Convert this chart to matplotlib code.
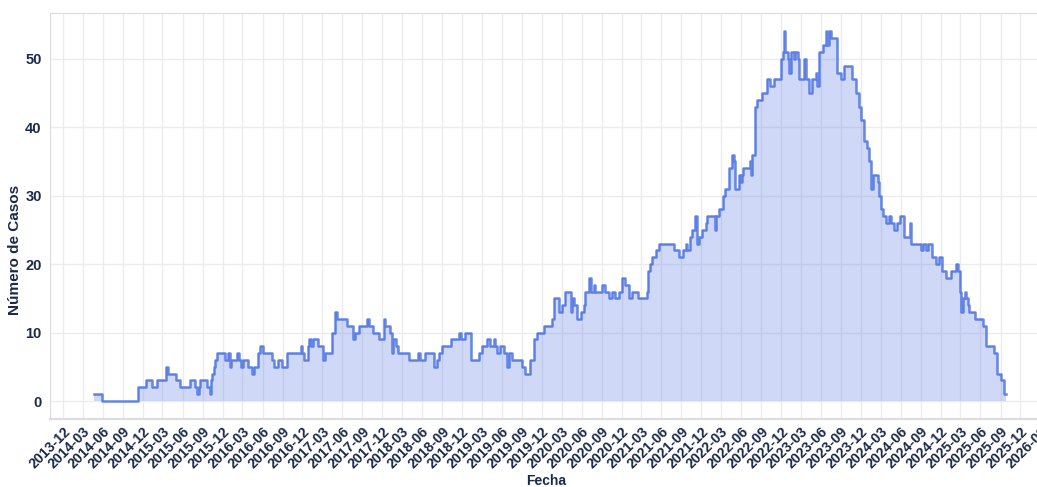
import matplotlib
matplotlib.use('Agg')
import matplotlib.pyplot as plt
import pandas as pd

dates = [
    '2014-04-21', '2014-05-30', '2014-11-11', '2014-12-16', '2015-01-11', '2015-02-03',
    '2015-03-19', '2015-03-28', '2015-05-04', '2015-05-19', '2015-07-04', '2015-07-28',
    '2015-08-07', '2015-08-15', '2015-08-19', '2015-09-19', '2015-10-04', '2015-10-10',
    '2015-10-16', '2015-10-22', '2015-10-28', '2015-11-04', '2015-12-12', '2015-12-27',
    '2016-01-03', '2016-01-08', '2016-02-06', '2016-02-13', '2016-02-24', '2016-03-04',
    '2016-03-28', '2016-04-13', '2016-04-24', '2016-05-13', '2016-05-21', '2016-06-04',
    '2016-07-13', '2016-07-22', '2016-08-13', '2016-08-29', '2016-09-22', '2016-11-22',
    '2016-11-29', '2016-12-07', '2016-12-25', '2016-12-29', '2017-01-07', '2017-01-16',
    '2017-02-12', '2017-03-07', '2017-03-15', '2017-04-15', '2017-05-01', '2017-05-10',
    '2017-06-22', '2017-07-22', '2017-07-28', '2017-08-16', '2017-09-22', '2017-10-01',
    '2017-10-22', '2017-11-16', '2017-12-07', '2017-12-16', '2018-01-07', '2018-01-13',
    '2018-01-19', '2018-02-01', '2018-02-10', '2018-04-01', '2018-05-16', '2018-05-24',
    '2018-06-16', '2018-07-25', '2018-08-09', '2018-08-16', '2018-09-01', '2018-10-10',
    '2018-11-16', '2018-11-25', '2018-12-16', '2019-01-10', '2019-02-16', '2019-03-01',
    '2019-03-25', '2019-04-10', '2019-04-25', '2019-05-03', '2019-05-10', '2019-05-25',
    '2019-06-10', '2019-06-25', '2019-07-03', '2019-07-18', '2019-09-03', '2019-09-18',
    '2019-10-07', '2019-10-25', '2019-11-10', '2019-12-11', '2020-01-18', '2020-01-28',
    '2020-02-18', '2020-03-03', '2020-03-18', '2020-04-12', '2020-04-18', '2020-04-27',
    '2020-05-09', '2020-05-27', '2020-06-12', '2020-06-18', '2020-07-06', '2020-07-12',
    '2020-07-27', '2020-08-03', '2020-09-03', '2020-09-18', '2020-10-03', '2020-10-18',
    '2020-11-03', '2020-11-18', '2020-12-03', '2020-12-18', '2021-01-03', '2021-01-18',
    '2021-02-12', '2021-03-27', '2021-04-03', '2021-04-12', '2021-04-21', '2021-05-06',
    '2021-05-21', '2021-07-27', '2021-08-21', '2021-09-09', '2021-09-21', '2021-09-27',
    '2021-10-12', '2021-10-21', '2021-11-01', '2021-11-12', '2021-11-21', '2021-12-06',
    '2021-12-21', '2021-12-27', '2022-02-01', '2022-02-06', '2022-02-21', '2022-03-11',
    '2022-03-21', '2022-04-06', '2022-04-21', '2022-04-29', '2022-05-06', '2022-05-21',
    '2022-06-03', '2022-06-06', '2022-06-12', '2022-07-12', '2022-07-18', '2022-07-21',
    '2022-08-06', '2022-08-15', '2022-09-06', '2022-09-27', '2022-10-12', '2022-11-01',
    '2022-12-01', '2022-12-10', '2022-12-16', '2022-12-21', '2023-01-01', '2023-01-07',
    '2023-01-16', '2023-01-28', '2023-02-03', '2023-02-16', '2023-02-21', '2023-03-16',
    '2023-03-25', '2023-04-06', '2023-04-23', '2023-05-08', '2023-05-16', '2023-05-23',
    '2023-06-09', '2023-06-24', '2023-07-01', '2023-07-09', '2023-07-16', '2023-08-16',
    '2023-09-01', '2023-09-16', '2023-10-24', '2023-11-09', '2023-11-24', '2023-12-01',
    '2023-12-16', '2023-12-28', '2024-01-09', '2024-01-16', '2024-01-28', '2024-02-16',
    '2024-02-24', '2024-03-04', '2024-03-13', '2024-03-24', '2024-04-09', '2024-04-16',
    '2024-05-02', '2024-05-17', '2024-05-28', '2024-06-15', '2024-07-12', '2024-07-18',
    '2024-09-03', '2024-09-09', '2024-09-24', '2024-10-03', '2024-10-24', '2024-11-09',
    '2024-11-24', '2024-12-09', '2024-12-24', '2025-01-18', '2025-02-09', '2025-02-18',
    '2025-02-27', '2025-03-03', '2025-03-11', '2025-03-21', '2025-03-27', '2025-04-03',
    '2025-04-09', '2025-05-09', '2025-06-12', '2025-06-27', '2025-08-03', '2025-08-18',
    '2025-09-03', '2025-09-15', '2025-09-27',
]
values = [
    1, 0, 2, 3, 2, 3,
    5, 4, 3, 2, 3, 2,
    1, 2, 3, 2, 1, 3,
    4, 5, 6, 7, 6, 7,
    5, 6, 7, 6, 5, 6,
    5, 4, 5, 7, 8, 7,
    6, 5, 6, 5, 7, 8,
    7, 6, 8, 9, 8, 9,
    8, 6, 7, 10, 13, 12,
    11, 9, 10, 11, 12, 11,
    10, 9, 12, 11, 10, 7,
    9, 8, 7, 6, 7, 6,
    7, 5, 6, 7, 8, 9,
    10, 9, 10, 6, 7, 8,
    9, 8, 9, 8, 7, 8,
    7, 5, 7, 6, 5, 4,
    6, 9, 10, 11, 12, 15,
    13, 14, 16, 13, 15, 14,
    12, 13, 14, 16, 18, 16,
    17, 16, 17, 16, 15, 16,
    15, 16, 18, 17, 15, 16,
    15, 16, 19, 20, 21, 22,
    23, 22, 21, 22, 23, 22,
    24, 25, 27, 23, 24, 25,
    26, 27, 25, 27, 28, 30,
    31, 34, 36, 35, 31, 33,
    32, 33, 34, 35, 33, 36,
    43, 44, 45, 47, 46, 47,
    50, 51, 54, 51, 50, 48,
    51, 50, 51, 50, 47, 50,
    47, 45, 47, 48, 46, 51,
    52, 54, 52, 54, 53, 48,
    47, 49, 47, 45, 43, 41,
    38, 37, 35, 31, 33, 32,
    30, 28, 27, 26, 27, 26,
    25, 26, 27, 24, 26, 23,
    22, 23, 22, 23, 21, 20,
    21, 19, 18, 19, 20, 19,
    16, 13, 15, 16, 15, 14,
    13, 12, 11, 8, 7, 4,
    3, 1, 1,
]
tick_dates = pd.date_range('2013-12-01', '2026-03-01', freq='3MS')
tick_labels = [d.strftime('%Y-%m') for d in tick_dates]
y_ticks = [0, 10, 20, 30, 40, 50]

text_color = '#1b2a47'
line_color = '#4169E1'
plt.rcParams['font.family'] = ['Liberation Sans', 'DejaVu Sans']

fig = plt.figure(figsize=(10.37, 4.87), dpi=100)
ax = fig.add_axes([50 / 1037, 68 / 487, 992 / 1037, 406 / 487])

x = pd.to_datetime(dates)
ax.fill_between(x, values, 0, step='post', color=line_color, alpha=0.25, lw=0)
ax.step(x, values, where='post', color=line_color, alpha=0.8, lw=1.8)

ax.set_xlim(pd.Timestamp('2013-10-02'), pd.Timestamp('2026-03-10'))
ax.set_ylim(-2.63, 56.7)

ax.set_xticks(tick_dates)
ax.set_xticklabels(tick_labels, rotation=45, ha='right', rotation_mode='anchor',
                   fontsize=10.2, fontweight='bold', color=text_color)
ax.set_yticks(y_ticks)
ax.set_yticklabels([str(v) for v in y_ticks], fontsize=10.5, fontweight='bold', color=text_color)
ax.tick_params(axis='both', length=0)
ax.tick_params(axis='x', pad=4)
ax.tick_params(axis='y', pad=6)

ax.grid(True, color='#ececec', lw=1)
ax.set_axisbelow(True)
for side in ['left', 'bottom', 'top']:
    ax.spines[side].set_color('#dcdcdc')
ax.spines['bottom'].set_linewidth(1.5)
ax.spines['right'].set_visible(False)

ax.set_xlabel('Fecha', fontsize=10, fontweight='bold', color=text_color)
ax.xaxis.set_label_coords((546 - 50) / 992, -(481 - 419) / 406)
ax.set_ylabel('Número de Casos', fontsize=11, fontweight='bold', color=text_color)
ax.yaxis.set_label_coords(-(50 - 15) / 992, (419 - 250) / 406)
ax.yaxis.label.set_va('center')
ax.xaxis.label.set_va('center')

fig.savefig('out.png', dpi=100)
